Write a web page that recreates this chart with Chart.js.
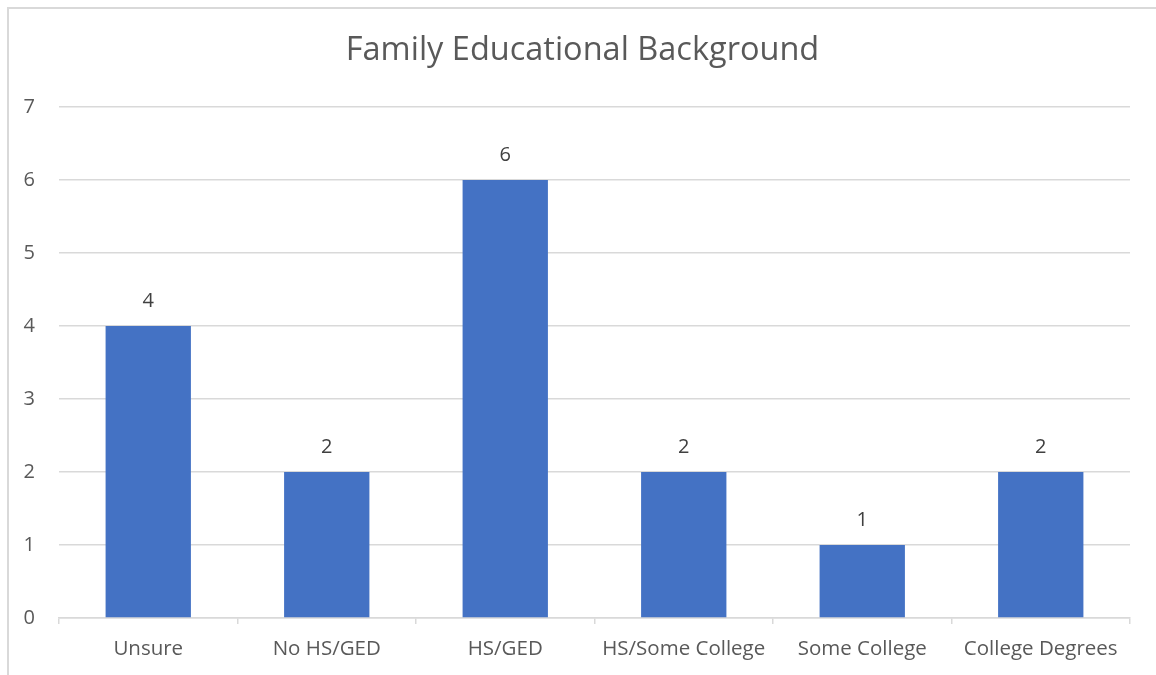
<!DOCTYPE html>
<html>
<head>
<meta charset="utf-8">
<script src="https://cdn.jsdelivr.net/npm/chart.js@4.4.0/dist/chart.umd.min.js"></script>
<style>
  html, body { margin: 0; padding: 0; background: #ffffff; overflow: hidden; }
  #wrap { position: relative; width: 1156px; height: 675px; }
  #frame { position: absolute; left: 7px; top: 7px; width: 1170px; height: 690px;
           border: 2px solid #d9d9d9; box-sizing: border-box; pointer-events: none; }
  canvas { position: absolute; left: 0; top: 0; }
</style>
</head>
<body>
<div id="wrap">
  <canvas id="chart" width="1156" height="675"></canvas>
  <div id="frame"></div>
</div>
<script>
// Survey responses by family educational background
const chartTitle = "Family Educational Background";
const categories = ["Unsure", "No HS/GED", "HS/GED", "HS/Some College", "Some College", "College Degrees"];
const counts = [4, 2, 6, 2, 1, 2];
const yTicks = [0, 1, 2, 3, 4, 5, 6, 7];

const FONT = "'Open Sans', Lato, sans-serif";

// Chart heading, centred over the whole frame
const heading = {
  id: 'heading',
  afterDraw(chart) {
    const ctx = chart.ctx;
    ctx.save();
    ctx.font = "32.5px " + FONT;
    ctx.fillStyle = "#595959";
    ctx.textAlign = "center";
    ctx.textBaseline = "middle";
    ctx.fillText(chartTitle, 582.5, 51);
    ctx.restore();
  }
};

// Prints each bar's value just above it
const valueLabels = {
  id: 'valueLabels',
  afterDatasetsDraw(chart) {
    const ctx = chart.ctx;
    const meta = chart.getDatasetMeta(0);
    ctx.save();
    ctx.font = "20px " + FONT;
    ctx.fillStyle = "#404040";
    ctx.textAlign = "center";
    ctx.textBaseline = "middle";
    meta.data.forEach((bar, i) => {
      ctx.fillText(String(counts[i]), bar.x, bar.y - 25);
    });
    ctx.restore();
  }
};

new Chart(document.getElementById('chart'), {
  type: 'bar',
  data: {
    labels: categories,
    datasets: [{
      data: counts,
      backgroundColor: '#4472C4',
      borderWidth: 0,
      categoryPercentage: 1.0,
      barPercentage: 0.478
    }]
  },
  options: {
    responsive: false,
    animation: false,
    layout: { padding: { left: 0, right: 26, top: 107, bottom: 0 } },
    plugins: {
      legend: { display: false },
      tooltip: { enabled: false },
      title: { display: false }
    },
    scales: {
      x: {
        grid: { display: true, drawOnChartArea: false, color: '#d9d9d9', lineWidth: 1.5, tickLength: 6, offset: true },
        border: { display: true, color: '#d9d9d9', width: 1.5 },
        ticks: { color: '#595959', font: { family: FONT, size: 20.5 }, padding: 13, maxRotation: 0 },
        afterFit(scale) { scale.height = 57; }
      },
      y: {
        min: 0,
        max: 7,
        afterBuildTicks(scale) { scale.ticks = yTicks.map(v => ({ value: v })); },
        grid: { color: '#d9d9d9', lineWidth: 1.5, drawTicks: false },
        border: { display: false },
        ticks: { color: '#595959', font: { family: FONT, size: 20 }, padding: 24 },
        afterFit(scale) { scale.width = 59; }
      }
    }
  },
  plugins: [valueLabels, heading]
});
</script>
</body>
</html>
